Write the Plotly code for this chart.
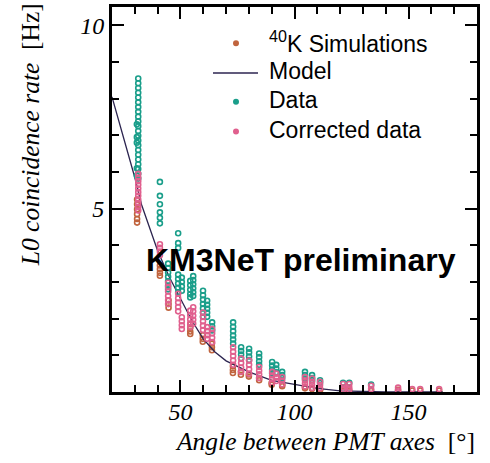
import plotly.graph_objects as go

# Angles between PMT axes [deg] and coincidence rates [Hz] for each PMT-pair group
sim_angles = [31.0, 41.0, 44.8, 54.3, 59.8, 63.8, 73.0, 76.5, 80.0, 84.5, 90.0, 94.6,
              104.6, 107.7, 111.2, 121.3, 124.0, 133.6, 145.4, 151.6, 155.1, 163.4]
sim_rates = [
    [5.25, 5.12, 4.98, 4.85, 4.72, 4.62],
    [3.45, 3.35, 3.25, 3.17],
    [2.5, 2.4, 2.3],
    [1.85, 1.75, 1.65, 1.58],
    [1.55, 1.45, 1.37],
    [1.32, 1.22, 1.14],
    [0.7, 0.6, 0.52],
    [0.55, 0.47],
    [0.48, 0.42],
    [0.38, 0.32],
    [0.25, 0.2],
    [0.2, 0.16],
    [0.14, 0.1],
    [0.1, 0.08],
    [0.07, 0.05],
    [0.04],
    [0.04],
    [0.03],
    [0.06],
    [0.04],
    [0.04],
    [0.04],
]

data_angles = [31.5, 30.9, 41.0, 44.6, 49.0, 50.6, 54.3, 55.6, 59.9, 61.7, 63.9, 73.1,
               76.6, 80.1, 84.5, 90.2, 92.0, 94.6, 104.6, 107.7, 111.2, 121.3, 124.0, 133.6]
data_rates = [
    [8.55, 8.42, 8.29, 8.16, 8.03, 7.9, 7.77, 7.64, 7.51, 7.38, 7.25, 7.12, 6.99, 6.86,
     6.73, 6.6, 6.47, 6.34, 6.21, 6.08, 5.95, 5.82],
    [7.3, 6.95, 6.8, 6.1, 5.9],
    [5.73, 5.35, 5.12, 4.9, 4.75, 4.6],
    [3.5, 3.38, 3.26, 3.14, 3.02, 2.9, 2.8],
    [4.33, 4.06, 3.93, 3.2, 3.08, 2.96, 2.84, 2.72],
    [3.12, 3.0, 2.88, 2.76],
    [3.03, 2.91, 2.79, 2.67, 2.58],
    [3.16, 3.05, 2.94, 2.83, 2.72, 2.62],
    [2.76, 2.64, 2.52, 2.4, 2.28, 2.16, 2.05],
    [2.49, 2.38, 2.27, 2.16, 2.05],
    [1.9, 1.79, 1.68],
    [1.9, 1.78, 1.66, 1.54, 1.43, 1.32],
    [1.22, 1.12, 1.02, 0.92],
    [1.18, 1.08, 0.97, 0.87],
    [1.05, 0.95, 0.84, 0.74],
    [0.82, 0.72, 0.61, 0.51],
    [0.74, 0.64, 0.54],
    [0.55, 0.46, 0.38],
    [0.55, 0.46, 0.37],
    [0.46, 0.38, 0.32],
    [0.32, 0.25],
    [0.25],
    [0.25],
    [0.2],
]

corr_angles = [31.5, 41.0, 44.6, 49.0, 50.6, 54.3, 55.6, 59.9, 61.7, 63.9, 73.1, 76.6,
               80.1, 84.5, 90.2, 92.0, 94.6, 104.6, 107.7, 111.2, 121.3, 124.0, 133.6,
               145.4, 151.6, 155.1, 163.4]
corr_rates = [
    [5.95, 5.85, 5.75, 5.65, 5.55, 5.45, 5.35, 5.25, 5.15, 5.05, 4.95],
    [4.03, 3.93, 3.83, 3.73],
    [2.98, 2.86, 2.74, 2.62, 2.5, 2.4],
    [2.68, 2.56, 2.44, 2.32, 2.2],
    [2.04, 1.93, 1.82, 1.72],
    [2.22, 2.1, 1.98, 1.87, 1.77],
    [2.31, 2.2, 2.08, 1.97, 1.86],
    [2.17, 2.05, 1.93, 1.81, 1.69],
    [1.77, 1.66, 1.55, 1.45],
    [1.72, 1.6, 1.48, 1.36],
    [1.22, 1.1, 0.98, 0.86, 0.74],
    [0.91, 0.79, 0.67, 0.55],
    [0.86, 0.74, 0.62, 0.5],
    [0.68, 0.58, 0.48, 0.38],
    [0.55, 0.45, 0.35, 0.25],
    [0.5, 0.4, 0.3],
    [0.41, 0.31, 0.21],
    [0.41, 0.32, 0.23, 0.15],
    [0.37, 0.28, 0.19, 0.11],
    [0.28, 0.19, 0.1],
    [0.22, 0.13, 0.06],
    [0.22, 0.13, 0.06],
    [0.17, 0.08],
    [0.12, 0.04],
    [0.08],
    [0.08],
    [0.08],
]

model_angles = [20, 25, 30, 33, 36, 40, 45, 50, 55, 60, 65, 70, 80, 90, 100, 110, 120, 130,
                140, 150, 165]
model_rates = [8.05, 6.95, 5.85, 5.1, 4.55, 3.85, 3.15, 2.57, 1.95, 1.45, 1.1, 0.85, 0.55,
               0.32, 0.2, 0.1, 0.03, 0.01, 0.0, 0.0, 0.0]

x_major = [50, 100, 150]
x_minor = [30, 40, 60, 70, 80, 90, 110, 120, 130, 140, 160, 170]
y_major = [5, 10]
y_minor = [1, 2, 3, 4, 6, 7, 8, 9]

legend_labels = ["<sup>40</sup>K Simulations", "Model", "Data", "Corrected data"]

SIM_C = "#c0643e"
DATA_C = "#1a9e8a"
CORR_C = "#e0608e"
MODEL_C = "#2c2550"

W, H = 490, 463
M_L, M_R, M_T, M_B = 112, 13, 4, 71
PW, PH = W - M_L - M_R, H - M_T - M_B


def flatten(angles, groups):
    xs, ys = [], []
    for a, g in zip(angles, groups):
        for v in g:
            xs.append(a)
            ys.append(v)
    return xs, ys


def ring(color):
    return dict(symbol="circle-open", size=5, color=color, line=dict(width=1.6, color=color))


def px_to_paper(px, py):
    return (px - M_L) / PW, (H - M_B - py) / PH


fig = go.Figure()

sx, sy = flatten(sim_angles, sim_rates)
dx, dy = flatten(data_angles, data_rates)
cx, cy = flatten(corr_angles, corr_rates)

fig.add_trace(go.Scatter(x=sx, y=sy, mode="markers", marker=ring(SIM_C), showlegend=False,
                         name=legend_labels[0]))
fig.add_trace(go.Scatter(x=model_angles, y=model_rates, mode="lines",
                         line=dict(color=MODEL_C, width=1.3), showlegend=False,
                         name=legend_labels[1]))
fig.add_trace(go.Scatter(x=dx, y=dy, mode="markers", marker=ring(DATA_C), showlegend=False,
                         name=legend_labels[2]))
fig.add_trace(go.Scatter(x=cx, y=cy, mode="markers", marker=ring(CORR_C), showlegend=False,
                         name=legend_labels[3]))

serif = "Liberation Serif"
axis_common = dict(
    showline=True, linewidth=3, linecolor="black", mirror="ticks",
    ticks="inside", ticklen=12, tickwidth=2.2, tickcolor="black",
    showgrid=False, zeroline=False,
    tickfont=dict(family=serif, size=24, color="black", style="italic"),
)

fig.update_xaxes(range=[20, 180], tickmode="array", tickvals=x_major,
                 ticklabelstandoff=-4,
                 minor=dict(tickmode="array", tickvals=x_minor, ticks="inside",
                            ticklen=7, tickwidth=2, tickcolor="black"),
                 **axis_common)
fig.update_yaxes(range=[0, 10.5], tickmode="array", tickvals=y_major,
                 minor=dict(tickmode="array", tickvals=y_minor, ticks="inside",
                            ticklen=7, tickwidth=2, tickcolor="black"),
                 **axis_common)

# axis titles, aligned to the far end of each axis
fig.add_annotation(
    text="<i>L0 coincidence rate</i>&nbsp;&nbsp;[Hz]", textangle=-90,
    xref="paper", yref="paper", x=-0.225, y=1.016, xanchor="center", yanchor="top",
    showarrow=False, font=dict(family=serif, size=25.5, color="black"),
)
fig.add_annotation(
    text="<i>Angle between PMT axes</i>&nbsp;&nbsp;[°]",
    xref="paper", yref="paper", x=1.0, y=-0.128, xanchor="right", yanchor="middle",
    showarrow=False, font=dict(family=serif, size=25.5, color="black"),
)
fig.add_annotation(
    text="<b>KM3NeT preliminary</b>",
    xref="paper", yref="paper", x=0.519, y=0.342, xanchor="center", yanchor="middle",
    showarrow=False, font=dict(family="Liberation Sans", size=32, color="black"),
)

# legend: symbol column and label column
leg_sym_x = 236
leg_text_x = 267
leg_rows_y = [40.5, 70.5, 99.5, 129.5]
leg_kinds = ["dot", "line", "dot", "dot"]
leg_colors = [SIM_C, MODEL_C, DATA_C, CORR_C]

for label, kind, col, ry in zip(legend_labels, leg_kinds, leg_colors, leg_rows_y):
    sx0, sy0 = px_to_paper(leg_sym_x, ry)
    if kind == "dot":
        fig.add_shape(type="circle", xref="paper", yref="paper",
                      xsizemode="pixel", ysizemode="pixel", xanchor=sx0, yanchor=sy0,
                      x0=-3, x1=3, y0=-3, y1=3, fillcolor=col, line=dict(width=0))
    else:
        fig.add_shape(type="line", xref="paper", yref="paper",
                      xsizemode="pixel", xanchor=sx0, x0=-23, x1=22, y0=sy0, y1=sy0,
                      line=dict(color=col, width=1.3))
    tx, ty = px_to_paper(leg_text_x, ry - 1.5)
    fig.add_annotation(text=label, xref="paper", yref="paper", x=tx, y=ty,
                       xanchor="left", yanchor="middle", showarrow=False,
                       font=dict(family="Liberation Sans", size=23, color="black"))

fig.update_layout(
    width=W, height=H,
    margin=dict(l=M_L, r=M_R, t=M_T, b=M_B),
    paper_bgcolor="white", plot_bgcolor="white",
    showlegend=False,
)

fig.write_html("out.html")
